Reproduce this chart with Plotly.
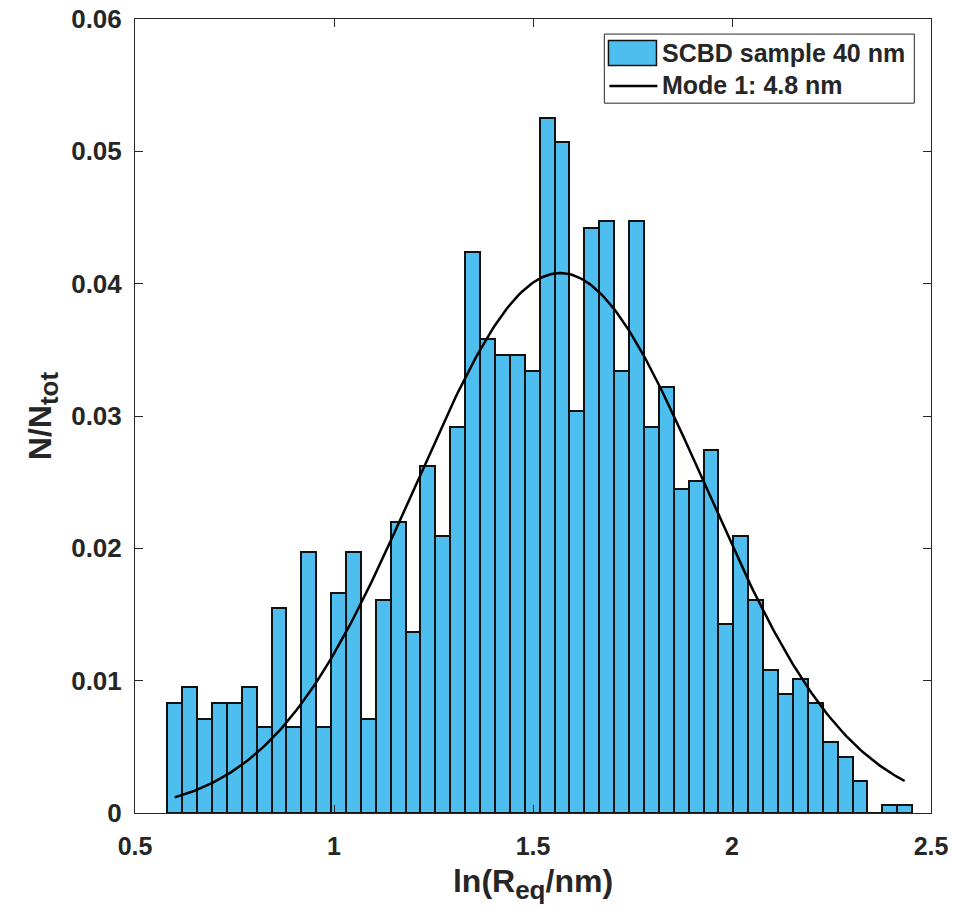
import numpy as np
import plotly.graph_objects as go

# Histogram of ln(R_eq / nm): fractional counts per bin
bin_start = 0.581
bin_width = 0.03743
fractions = [
    0.0083, 0.0095, 0.0071, 0.0083, 0.0083, 0.0095, 0.0065, 0.0155, 0.0065, 0.0197,
    0.0065, 0.0166, 0.0197, 0.0071, 0.0161, 0.0220, 0.0137, 0.0262, 0.0209, 0.0292,
    0.0424, 0.0358, 0.0346, 0.0346, 0.0334, 0.0525, 0.0507, 0.0304, 0.0442, 0.0447,
    0.0334, 0.0447, 0.0292, 0.0322, 0.0245, 0.0251, 0.0274, 0.0143, 0.0209, 0.0161,
    0.0108, 0.0090, 0.0101, 0.0083, 0.0054, 0.0042, 0.0024, 0.0, 0.0006, 0.0006,
]

# Log-normal fit (Gaussian in ln R): mode 4.8 nm
mode_nm = 4.8
fit_peak = 0.0408
fit_sigma = 0.364

x_ticks = [0.5, 1, 1.5, 2, 2.5]
x_ticklabels = ["0.5", "1", "1.5", "2", "2.5"]
y_ticks = [0, 0.01, 0.02, 0.03, 0.04, 0.05, 0.06]
y_ticklabels = ["0", "0.01", "0.02", "0.03", "0.04", "0.05", "0.06"]

bar_color = "#4DBEEE"
ink = "#262626"
font_family = "Liberation Sans, Arial, sans-serif"

centers = bin_start + (np.arange(len(fractions)) + 0.5) * bin_width
mu = np.log(mode_nm)
x_fit = np.linspace(centers[0], centers[-1], 300)
y_fit = fit_peak * np.exp(-((x_fit - mu) ** 2) / (2 * fit_sigma ** 2))

fig = go.Figure()
fig.add_trace(go.Bar(
    x=centers, y=fractions, width=bin_width,
    marker=dict(color=bar_color, line=dict(color="#111111", width=2)),
    name="SCBD sample 40 nm", showlegend=False,
))
fig.add_trace(go.Scatter(
    x=x_fit, y=y_fit, mode="lines",
    line=dict(color="black", width=2.5),
    name=f"Mode 1: {mode_nm} nm", showlegend=False,
))

# Legend box drawn in paper coordinates
lx0, lx1, ly0, ly1 = 0.5896, 0.979, 0.894, 0.981
fig.add_shape(type="rect", xref="paper", yref="paper", x0=lx0, x1=lx1, y0=ly0, y1=ly1,
              line=dict(color=ink, width=1), fillcolor="white", layer="above")
fig.add_shape(type="rect", xref="paper", yref="paper", x0=0.5948, x1=0.6551, y0=0.9414, y1=0.9729,
              line=dict(color="#111111", width=1.5), fillcolor=bar_color, layer="above")
fig.add_shape(type="line", xref="paper", yref="paper", x0=0.5960, x1=0.6563, y0=0.9156, y1=0.9156,
              line=dict(color="black", width=2.5), layer="above")
legend_font = dict(family=font_family, size=25, color=ink, weight="bold")
fig.add_annotation(xref="paper", yref="paper", x=0.659, y=0.9572, xanchor="left", yanchor="middle",
                   text="SCBD sample 40 nm", showarrow=False, font=legend_font)
fig.add_annotation(xref="paper", yref="paper", x=0.659, y=0.9174, xanchor="left", yanchor="middle",
                   text=f"Mode 1: {mode_nm} nm", showarrow=False, font=legend_font)

axis_common = dict(
    automargin=False,
    showline=True, linecolor=ink, linewidth=1, mirror="ticks",
    ticks="inside", ticklen=8, tickcolor=ink, tickwidth=1,
    showgrid=False, zeroline=False,
)
title_font = dict(family=font_family, size=32, color=ink, weight="bold")

fig.update_layout(
    width=953, height=912,
    margin=dict(l=135, r=22, t=19, b=99),
    paper_bgcolor="white", plot_bgcolor="white",
    bargap=0,
    xaxis=dict(range=[0.5, 2.5], tickvals=x_ticks, ticktext=x_ticklabels,
               ticklabelstandoff=11,
               tickfont=dict(family=font_family, size=25, color=ink, weight="bold"),
               title=dict(text='ln(R<sub><span style="font-size:26px">eq</span></sub>/nm)',
                          standoff=10, font=title_font),
               **axis_common),
    yaxis=dict(range=[0, 0.06], tickvals=y_ticks, ticktext=y_ticklabels,
               ticklabelstandoff=7,
               tickfont=dict(family=font_family, size=26, color=ink, weight="bold"),
               title=dict(text='N/N<sub><span style="font-size:26px">tot</span></sub>',
                          standoff=9, font=title_font),
               **axis_common),
)

fig.write_html("out.html")
